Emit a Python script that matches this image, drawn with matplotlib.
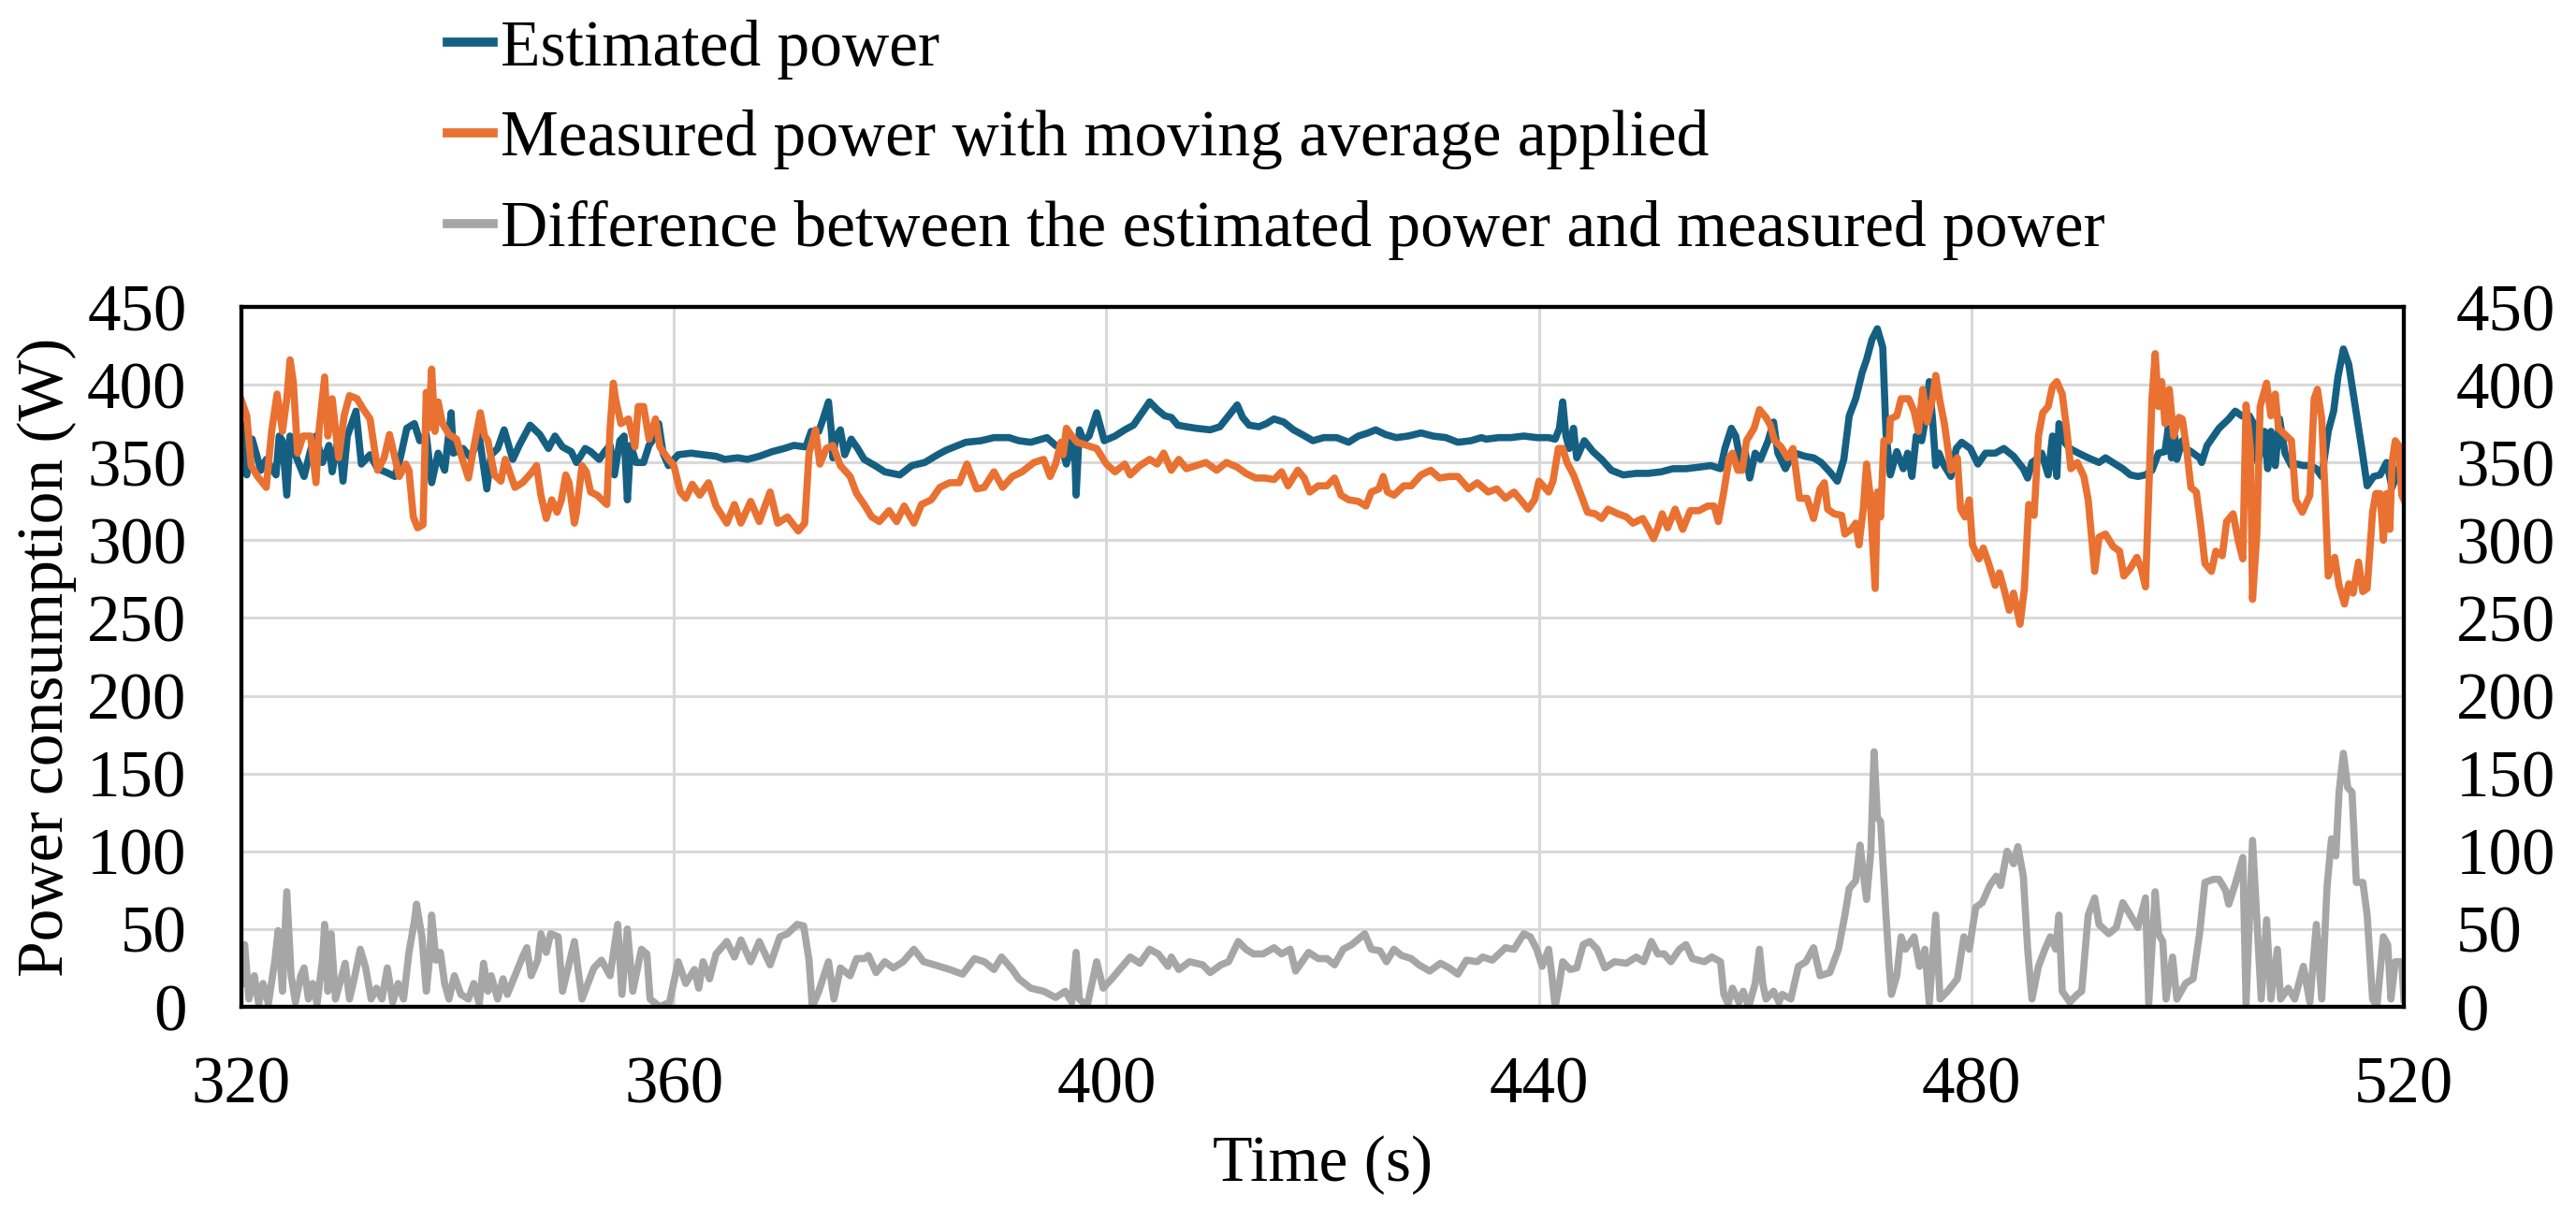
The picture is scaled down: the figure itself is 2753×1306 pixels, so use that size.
import matplotlib
matplotlib.use("Agg")
import matplotlib.pyplot as plt

# ---- data (time in s, power in W) ----
est_t = [320.0, 320.5, 321.0, 321.8, 322.3, 323.2, 323.5, 323.8, 324.2, 324.5, 325.1, 325.8, 326.4, 326.9,
         327.5, 328.1, 328.4, 329.0, 329.4, 329.8, 330.6, 331.1, 331.9, 332.6, 333.3, 334.2, 334.7, 335.3,
         336.0, 336.5, 337.1, 337.6, 338.2, 338.8, 339.4, 339.6, 340.5, 341.2, 342.0, 342.7, 343.1, 343.7,
         344.3, 345.1, 345.7, 346.7, 347.6, 348.4, 349.0, 349.7, 350.5, 351.0, 351.8, 352.3, 353.1, 353.6,
         354.1, 354.5, 355.0, 355.4, 355.7, 356.0, 356.5, 357.2, 357.7, 358.3, 358.6, 359.0, 359.5, 360.4,
         361.6, 362.7, 363.9, 364.7, 365.9, 366.8, 367.9, 369.1, 370.2, 371.1, 372.2, 372.7, 373.4, 373.8,
         374.3, 374.6, 374.7, 375.0, 375.4, 375.8, 376.4, 377.0, 377.6, 378.6, 379.5, 380.9, 382.0, 383.2,
         384.4, 385.2, 387.0, 388.4, 389.6, 391.0, 391.9, 393.0, 394.5, 395.3, 395.9, 396.3, 396.8, 397.1,
         397.2, 397.5, 397.9, 398.4, 399.1, 399.8, 400.8, 401.7, 402.5, 403.3, 404.0, 404.7, 405.4, 406.0,
         406.6, 407.4, 408.3, 409.6, 410.5, 411.3, 412.1, 412.6, 413.2, 414.1, 414.8, 415.5, 416.4, 417.3,
         418.1, 419.1, 420.1, 421.3, 422.4, 423.3, 424.2, 424.9, 425.8, 426.8, 427.9, 429.1, 430.2, 431.4,
         432.5, 433.7, 434.7, 435.1, 436.3, 437.4, 438.6, 439.8, 440.9, 441.5, 441.9, 442.2, 442.5, 442.8,
         443.2, 443.5, 444.2, 445.0, 445.8, 446.7, 447.8, 449.0, 450.1, 451.3, 452.4, 453.6, 454.8, 455.9,
         456.8, 457.2, 457.8, 458.2, 458.7, 459.1, 459.5, 460.0, 460.5, 461.2, 461.7, 462.1, 462.8, 463.3,
         463.7, 464.6, 465.4, 466.1, 466.9, 467.6, 468.2, 468.7, 469.3, 469.9, 470.3, 470.8, 471.3, 471.8,
         472.1, 472.5, 473.1, 473.7, 474.1, 474.5, 474.9, 475.4, 475.8, 476.1, 476.4, 476.7, 477.0, 477.4,
         478.1, 478.6, 479.1, 479.9, 480.6, 481.3, 482.2, 483.0, 483.9, 484.8, 485.2, 485.6, 486.0, 486.5,
         487.1, 487.5, 487.9, 488.1, 488.5, 489.1, 489.9, 490.8, 491.8, 492.4, 493.3, 494.0, 494.7, 495.4,
         496.1, 496.7, 497.3, 497.9, 498.2, 498.5, 498.8, 499.0, 499.5, 499.8, 500.3, 501.1, 501.3, 501.8,
         502.4, 502.9, 503.8, 504.4, 505.0, 505.7, 506.1, 506.5, 507.1, 507.4, 507.7, 508.1, 508.5, 509.0,
         509.6, 510.1, 510.7, 511.3, 511.9, 512.4, 513.0, 513.5, 513.9, 514.4, 514.9, 515.5, 516.1, 516.6,
         517.2, 517.8, 518.4, 518.9, 519.5, 519.9, 520.0]
est_w = [374, 342, 365, 345, 352, 342, 367, 364, 329, 367, 353, 341, 358, 367,
         350, 361, 344, 367, 338, 367, 383, 349, 355, 346, 344, 341, 353, 372,
         375, 364, 368, 337, 356, 345, 382, 356, 359, 353, 367, 333, 355, 359,
         371, 352, 361, 374, 368, 359, 367, 360, 357, 350, 359, 357, 352, 357,
         361, 342, 364, 367, 326, 361, 350, 350, 361, 367, 375, 356, 348, 355,
         356, 355, 354, 352, 353, 352, 354, 357, 359, 361, 360, 370, 370, 378,
         389, 367, 353, 367, 371, 355, 365, 359, 352, 348, 344, 342, 348, 350,
         355, 358, 363, 364, 366, 366, 364, 363, 366, 361, 359, 349, 364, 350,
         329, 371, 364, 367, 382, 364, 367, 371, 374, 382, 389, 384, 380, 379,
         374, 373, 372, 371, 373, 380, 387, 379, 374, 373, 375, 378, 376, 371,
         368, 364, 366, 366, 363, 367, 369, 371, 368, 366, 367, 369, 367, 366,
         363, 364, 366, 365, 366, 366, 367, 366, 366, 365, 372, 389, 367, 359,
         372, 353, 364, 357, 352, 345, 342, 343, 343, 344, 346, 346, 347, 348,
         346, 359, 372, 367, 349, 356, 340, 356, 352, 364, 376, 356, 346, 353,
         356, 354, 353, 350, 344, 338, 352, 380, 391, 408, 416, 429, 436, 424,
         369, 342, 357, 346, 356, 341, 367, 364, 380, 402, 378, 348, 356, 349,
         341, 359, 363, 359, 349, 356, 356, 359, 354, 346, 340, 350, 352, 356,
         342, 367, 341, 375, 364, 359, 356, 353, 350, 353, 349, 346, 342, 341,
         342, 345, 356, 357, 372, 353, 367, 352, 364, 359, 357, 353, 350, 361,
         367, 372, 378, 383, 380, 380, 375, 350, 370, 346, 370, 348, 378, 356,
         348, 349, 348, 348, 346, 341, 370, 383, 405, 423, 413, 386, 359, 335,
         341, 342, 350, 334, 345, 359, 355]

meas_t = [320.0, 320.5, 320.9, 321.5, 322.3, 322.8, 323.3, 323.8, 324.2, 324.5, 324.8, 325.2, 325.7, 326.4,
          326.9, 327.2, 327.7, 328.0, 328.4, 329.0, 329.5, 330.0, 330.7, 331.3, 331.9, 332.6, 333.2, 333.7,
          334.2, 334.6, 335.2, 335.5, 335.9, 336.3, 336.8, 337.1, 337.3, 337.6, 337.9, 338.2, 338.6, 339.2,
          339.9, 340.4, 341.0, 341.4, 341.7, 342.1, 342.5, 342.8, 343.4, 344.0, 344.4, 344.8, 345.3, 346.0,
          346.9, 347.3, 347.7, 348.2, 348.7, 349.2, 349.6, 350.0, 350.3, 350.8, 351.0, 351.5, 351.9, 352.3,
          352.9, 353.5, 353.8, 354.1, 354.4, 354.6, 355.1, 355.8, 356.4, 356.7, 357.2, 357.7, 358.3, 358.7,
          359.4, 360.0, 360.6, 361.1, 361.7, 362.4, 363.2, 363.9, 364.9, 365.6, 366.2, 367.1, 367.9, 368.9,
          369.6, 370.5, 371.5, 372.1, 372.5, 373.1, 373.5, 374.1, 374.7, 375.4, 376.3, 376.9, 377.6, 378.3,
          379.0, 379.9, 380.6, 381.3, 382.2, 382.9, 383.8, 384.6, 385.5, 386.4, 387.1, 388.0, 388.7, 389.6,
          390.4, 391.3, 392.2, 393.3, 394.2, 394.8, 395.3, 395.8, 396.0, 396.3, 396.8, 397.3, 398.2, 399.1,
          400.0, 400.8, 401.7, 402.2, 403.1, 404.0, 404.7, 405.3, 406.0, 406.7, 407.4, 408.3, 409.2, 410.2,
          411.1, 412.1, 412.9, 413.8, 414.7, 415.5, 416.2, 416.8, 417.7, 418.3, 418.8, 419.6, 420.4, 421.1,
          421.7, 422.4, 423.3, 424.0, 424.5, 425.2, 425.6, 426.0, 426.6, 427.5, 428.2, 429.1, 430.0, 430.8,
          431.7, 432.5, 433.5, 434.3, 435.3, 436.1, 436.9, 437.7, 438.3, 439.0, 439.6, 440.0, 440.9, 441.3,
          441.8, 442.2, 442.6, 443.2, 443.8, 444.5, 445.2, 445.8, 446.4, 447.3, 448.1, 448.7, 449.6, 450.1,
          450.6, 451.0, 451.4, 451.9, 452.6, 453.3, 454.0, 454.8, 455.6, 456.2, 456.6, 457.1, 457.6, 457.9,
          458.4, 458.8, 459.2, 459.9, 460.4, 461.0, 461.4, 461.8, 462.4, 463.0, 463.5, 464.1, 464.8, 465.4,
          466.0, 466.4, 466.7, 467.3, 468.0, 468.3, 468.9, 469.3, 469.6, 470.0, 470.3, 470.6, 471.1, 471.3,
          471.6, 471.9, 472.4, 472.5, 473.1, 473.5, 474.2, 474.7, 475.1, 475.5, 475.9, 476.4, 476.7, 477.1,
          477.5, 478.1, 478.7, 479.0, 479.4, 479.8, 480.1, 480.7, 481.1, 481.6, 482.2, 482.6, 483.0, 483.5,
          483.9, 484.5, 484.9, 485.3, 485.8, 486.2, 486.6, 487.1, 487.5, 487.9, 488.4, 488.8, 489.2, 489.8,
          490.4, 490.8, 491.4, 491.8, 492.4, 493.1, 493.7, 494.1, 494.7, 495.3, 495.7, 496.1, 496.4, 496.7,
          497.0, 497.3, 497.6, 497.9, 498.3, 498.7, 499.2, 499.5, 499.9, 500.3, 500.8, 501.2, 501.6, 502.2,
          502.6, 503.2, 503.6, 504.2, 504.7, 505.1, 505.4, 505.8, 506.0, 506.4, 506.7, 507.3, 507.7, 508.1,
          508.4, 509.0, 509.6, 510.0, 510.6, 511.3, 511.7, 512.0, 512.4, 512.7, 513.0, 513.6, 514.0, 514.5,
          514.9, 515.3, 515.8, 516.2, 516.6, 517.1, 517.4, 517.8, 518.1, 518.4, 518.7, 518.9, 519.2, 519.5,
          519.8, 520.0]
meas_w = [390, 380, 348, 341, 334, 370, 394, 370, 391, 416, 402, 356, 367, 367,
          337, 372, 405, 367, 391, 353, 380, 393, 391, 384, 378, 345, 353, 368,
          353, 341, 349, 345, 315, 308, 310, 395, 372, 410, 370, 389, 375, 368,
          365, 353, 340, 356, 367, 382, 367, 364, 342, 338, 352, 344, 334, 337,
          344, 348, 329, 314, 326, 318, 326, 342, 337, 311, 318, 348, 344, 331,
          329, 325, 323, 372, 401, 391, 375, 378, 360, 386, 386, 365, 378, 360,
          353, 348, 331, 327, 336, 329, 337, 322, 311, 323, 311, 325, 312, 331,
          311, 315, 306, 311, 356, 371, 349, 359, 361, 348, 341, 330, 323, 315,
          312, 319, 312, 322, 311, 323, 326, 334, 337, 337, 349, 333, 334, 344,
          334, 341, 344, 350, 352, 341, 349, 363, 355, 372, 367, 363, 361, 359,
          349, 344, 349, 342, 348, 352, 349, 356, 345, 352, 346, 348, 350, 345,
          350, 347, 343, 340, 340, 339, 344, 335, 345, 340, 331, 335, 335, 340,
          329, 326, 325, 322, 331, 333, 341, 331, 329, 335, 335, 342, 345, 340,
          341, 341, 333, 337, 331, 333, 327, 331, 326, 320, 326, 338, 331, 338,
          359, 359, 350, 342, 331, 318, 317, 314, 320, 317, 315, 311, 314, 308,
          301, 308, 317, 308, 320, 307, 319, 319, 322, 322, 312, 331, 353, 356,
          345, 345, 364, 372, 384, 379, 374, 364, 360, 353, 359, 327, 327, 314,
          333, 337, 320, 317, 316, 304, 307, 311, 297, 320, 349, 331, 269, 331,
          315, 364, 364, 378, 380, 391, 391, 383, 370, 397, 376, 391, 406, 389,
          375, 345, 353, 320, 315, 326, 297, 288, 295, 285, 271, 279, 269, 255,
          266, 246, 269, 323, 316, 367, 382, 386, 399, 402, 394, 372, 346, 350,
          341, 326, 280, 302, 304, 296, 293, 277, 282, 289, 282, 270, 331, 391,
          420, 386, 402, 375, 397, 367, 379, 378, 359, 334, 331, 310, 285, 280,
          293, 290, 312, 317, 299, 288, 387, 359, 262, 304, 386, 401, 380, 394,
          372, 368, 364, 326, 318, 329, 391, 397, 378, 331, 277, 289, 271, 259,
          272, 266, 286, 267, 269, 318, 330, 330, 300, 330, 307, 350, 364, 361,
          329, 326]

diff_t = [320.0, 320.3, 320.7, 321.2, 321.6, 322.0, 322.5, 323.1, 323.4, 323.8, 324.2, 324.6, 325.0, 325.5,
          325.8, 326.2, 326.6, 327.0, 327.5, 327.7, 328.0, 328.3, 328.7, 329.1, 329.6, 330.0, 330.5, 331.0,
          331.5, 332.0, 332.5, 333.0, 333.5, 334.0, 334.5, 335.0, 335.5, 336.0, 336.2, 336.7, 337.1, 337.4,
          337.6, 338.0, 338.4, 338.8, 339.2, 339.7, 340.3, 341.0, 341.5, 342.0, 342.4, 342.8, 343.1, 343.7,
          344.2, 344.6, 345.3, 346.0, 346.4, 346.8, 347.4, 347.7, 348.2, 348.6, 349.3, 349.7, 350.8, 351.5,
          352.6, 353.3, 354.1, 354.8, 355.2, 355.7, 356.2, 357.0, 357.5, 357.8, 358.7, 359.6, 360.4, 361.1,
          361.9, 362.3, 362.7, 363.3, 363.9, 364.9, 365.6, 366.2, 367.1, 367.9, 368.9, 369.8, 370.5, 371.4,
          372.0, 372.5, 372.8, 373.4, 374.3, 374.8, 375.4, 376.3, 376.9, 377.6, 378.0, 378.7, 379.5, 380.3,
          381.2, 382.2, 383.1, 384.1, 385.5, 386.7, 387.8, 388.7, 389.6, 390.3, 391.3, 391.9, 393.0, 394.2,
          395.3, 396.2, 396.8, 397.2, 397.5, 398.2, 399.1, 399.7, 400.5, 401.1, 402.2, 403.1, 404.0, 404.8,
          405.7, 406.0, 406.7, 407.7, 408.9, 409.6, 410.6, 411.3, 412.2, 412.9, 413.6, 414.5, 415.5, 416.2,
          417.0, 417.5, 418.7, 419.6, 420.4, 421.1, 421.9, 422.7, 423.9, 424.5, 425.3, 425.9, 426.6, 427.3,
          428.2, 428.9, 429.9, 430.9, 431.7, 432.5, 433.3, 434.3, 434.8, 435.7, 436.9, 437.7, 438.6, 439.2,
          439.8, 440.3, 440.9, 441.2, 441.5, 441.9, 442.2, 442.9, 443.5, 444.1, 444.7, 445.4, 446.1, 447.0,
          448.1, 449.0, 449.7, 450.4, 451.0, 451.6, 452.2, 453.0, 453.6, 454.2, 455.3, 456.0, 456.8, 457.1,
          457.5, 457.9, 458.5, 458.9, 459.4, 460.0, 460.4, 460.7, 461.0, 461.7, 462.2, 462.5, 463.3, 464.0,
          464.7, 465.4, 466.0, 466.9, 467.7, 468.3, 468.7, 469.3, 469.7, 470.0, 470.3, 470.7, 471.0, 471.3,
          471.6, 472.1, 472.4, 472.6, 473.1, 473.5, 473.9, 474.7, 475.2, 475.7, 476.1, 476.7, 477.1, 477.8,
          478.7, 479.3, 479.8, 480.4, 481.0, 481.7, 482.3, 482.7, 483.3, 483.9, 484.3, 484.8, 485.2, 485.6,
          486.2, 486.8, 487.3, 487.8, 488.1, 488.4, 489.1, 489.8, 490.2, 490.8, 491.4, 491.8, 492.7, 493.4,
          494.0, 494.7, 495.4, 496.1, 496.4, 497.0, 497.3, 497.7, 498.0, 498.6, 499.0, 499.8, 500.5, 501.1,
          501.6, 502.4, 502.9, 503.5, 503.8, 504.4, 505.1, 505.4, 506.0, 506.4, 506.8, 507.3, 507.7, 508.3,
          508.6, 509.3, 509.9, 510.7, 511.3, 511.9, 512.4, 512.9, 513.3, 513.7, 514.0, 514.4, 514.8, 515.2,
          515.6, 516.2, 516.6, 517.1, 517.5, 518.1, 518.5, 518.8, 519.2, 519.8, 520.0]
diff_w = [15, 40, 5, 20, 2, 15, 2, 30, 49, 10, 74, 20, 3, 20,
          25, 5, 15, 2, 30, 53, 10, 47, 5, 15, 28, 5, 20, 37,
          25, 5, 12, 5, 25, 3, 15, 5, 35, 55, 66, 45, 10, 30,
          59, 30, 35, 15, 5, 20, 8, 5, 15, 2, 28, 10, 20, 5,
          18, 8, 20, 32, 38, 20, 30, 47, 35, 47, 45, 10, 42, 5,
          25, 30, 20, 53, 8, 50, 10, 37, 34, 5, 0, 3, 29, 15,
          24, 12, 29, 18, 34, 42, 32, 43, 29, 42, 27, 45, 47, 53,
          52, 30, 0, 10, 29, 5, 25, 20, 31, 31, 33, 22, 29, 25,
          29, 37, 29, 27, 24, 21, 31, 29, 24, 32, 24, 18, 12, 10,
          6, 10, 3, 35, 5, 0, 29, 12, 18, 23, 32, 28, 37, 34,
          26, 32, 24, 29, 27, 22, 27, 29, 42, 37, 34, 34, 38, 34,
          37, 23, 35, 31, 31, 27, 37, 40, 47, 37, 36, 29, 37, 33,
          31, 27, 23, 28, 25, 21, 30, 29, 32, 30, 38, 37, 47, 45,
          37, 26, 37, 20, 0, 15, 29, 24, 25, 40, 42, 37, 25, 29,
          28, 32, 29, 42, 34, 34, 29, 37, 40, 31, 29, 32, 29, 8,
          2, 12, 3, 10, 0, 15, 37, 15, 5, 10, 3, 8, 5, 26,
          29, 38, 20, 22, 37, 59, 76, 81, 104, 86, 69, 100, 164, 122,
          119, 59, 26, 8, 20, 45, 37, 45, 26, 37, 2, 59, 5, 10,
          18, 45, 37, 64, 67, 78, 84, 78, 100, 92, 103, 84, 37, 5,
          26, 37, 45, 37, 59, 10, 3, 8, 10, 59, 70, 53, 47, 51,
          67, 59, 51, 70, 2, 74, 47, 42, 5, 32, 5, 15, 18, 47,
          80, 82, 82, 75, 66, 79, 96, 2, 107, 56, 5, 56, 5, 37,
          5, 12, 5, 26, 3, 53, 5, 78, 108, 97, 138, 163, 141, 138,
          80, 80, 59, 5, 0, 45, 40, 5, 29, 29, 5]

labels = ["Estimated power",
          "Measured power with moving average applied",
          "Difference between the estimated power and measured power"]
colors = ["#156082", "#E97132", "#A6A6A6"]

plt.rcParams['font.family'] = ['Liberation Serif', 'DejaVu Serif']
fs = 50

fig = plt.figure(figsize=(27.53, 13.06), dpi=100)
ax = fig.add_axes([0.0937, 0.1761, 0.8395, 0.5727])

ax.plot(est_t, est_w, color=colors[0], lw=5.5, label=labels[0], solid_joinstyle='round')
ax.plot(meas_t, meas_w, color=colors[1], lw=5.5, label=labels[1], solid_joinstyle='round')
ax.plot(diff_t, diff_w, color=colors[2], lw=5.5, label=labels[2], solid_joinstyle='round')

ax.set_xlim(320, 520)
ax.set_ylim(0, 450)
ax.set_xticks(range(320, 521, 40))
ax.set_yticks(range(0, 451, 50))
ax.grid(True, color='#d9d9d9', lw=2.2)
ax.set_axisbelow(True)
for s in ax.spines.values():
    s.set_linewidth(3)
    s.set_color('black')
ax.tick_params(length=0, labelsize=51)
ax.tick_params(axis='y', pad=42)
ax.tick_params(axis='x', pad=38)
ax.set_xlabel('Time (s)', fontsize=fs, labelpad=14)
ax.set_ylabel('Power consumption (W)', fontsize=fs, labelpad=8)

ax2 = ax.twinx()
ax2.set_ylim(0, 450)
ax2.set_yticks(range(0, 451, 50))
ax2.tick_params(length=0, labelsize=51, pad=40)
for s in ax2.spines.values():
    s.set_linewidth(3)

h, l = ax.get_legend_handles_labels()
leg = fig.legend(h, l, loc='upper left', bbox_to_anchor=(0.1585, 1.016), frameon=False,
                 fontsize=fs, handlelength=0.7, handletextpad=0.12, labelspacing=0.47,
                 borderpad=0.1)
for ln in leg.get_lines():
    ln.set_linewidth(7)

fig.savefig('out.png', dpi=100)
